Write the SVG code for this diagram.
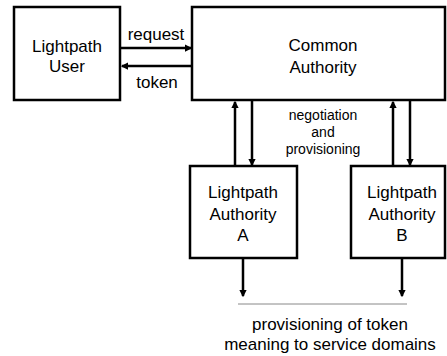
<svg xmlns="http://www.w3.org/2000/svg" width="447" height="356" viewBox="0 0 447 356">
  <defs>
    <marker id="ah" viewBox="0 0 6 6" refX="5" refY="3" markerWidth="3" markerHeight="3" orient="auto" markerUnits="strokeWidth">
      <path d="M0,0 L6,3 L0,6 z" fill="#000"/>
    </marker>
  </defs>
  <style>
    .box { fill: #fff; stroke: #000; stroke-width: 2.5; }
    .lbl { font-family: "Liberation Sans", Arial, sans-serif; font-size: 17px; fill: #000; text-anchor: middle; }
    .sm { font-family: "Liberation Sans", Arial, sans-serif; font-size: 14px; fill: #000; text-anchor: middle; }
    .md { font-family: "Liberation Sans", Arial, sans-serif; font-size: 17px; fill: #000; text-anchor: middle; }
    .arr { stroke: #000; stroke-width: 2.5; fill: none; marker-end: url(#ah); }
  </style>
  <rect width="447" height="356" fill="#fff"/>

  <g id="connectors">
    <line class="arr" x1="121" y1="48" x2="191" y2="48"/>
    <line class="arr" x1="192" y1="66" x2="122" y2="66"/>
    <line class="arr" x1="235" y1="166" x2="235" y2="102"/>
    <line class="arr" x1="252" y1="101" x2="252" y2="165"/>
    <line class="arr" x1="393" y1="166" x2="393" y2="102"/>
    <line class="arr" x1="410" y1="101" x2="410" y2="165"/>
    <line class="arr" x1="243" y1="259" x2="243" y2="296"/>
    <line class="arr" x1="402" y1="259" x2="402" y2="296"/>
    <line x1="238" y1="304" x2="407" y2="304" stroke="#888" stroke-width="1"/>
    <text class="md" x="156" y="40">request</text>
    <text class="md" x="157" y="88">token</text>
    <text class="sm" x="323" y="120">negotiation</text>
    <text class="sm" x="323" y="137">and</text>
    <text class="sm" x="323" y="154">provisioning</text>
  </g>

  <g id="user">
    <rect class="box" x="14" y="7" width="106" height="93"/>
    <text class="lbl" x="67" y="52">Lightpath</text>
    <text class="lbl" x="67" y="72">User</text>
  </g>

  <g id="common">
    <rect class="box" x="192" y="7" width="253" height="93"/>
    <text class="lbl" x="323" y="51">Common</text>
    <text class="lbl" x="323" y="73">Authority</text>
  </g>

  <g id="authority-a">
    <rect class="box" x="190" y="166" width="107" height="92"/>
    <text class="lbl" x="243" y="198">Lightpath</text>
    <text class="lbl" x="243" y="220">Authority</text>
    <text class="lbl" x="243" y="241">A</text>
  </g>

  <g id="authority-b">
    <rect class="box" x="351" y="166" width="94" height="92"/>
    <text class="lbl" x="402" y="198">Lightpath</text>
    <text class="lbl" x="402" y="220">Authority</text>
    <text class="lbl" x="402" y="241">B</text>
  </g>

  <g id="note">
    <text class="md" x="330" y="330">provisioning of token</text>
    <text class="md" x="330" y="350">meaning to service domains</text>
  </g>
</svg>
